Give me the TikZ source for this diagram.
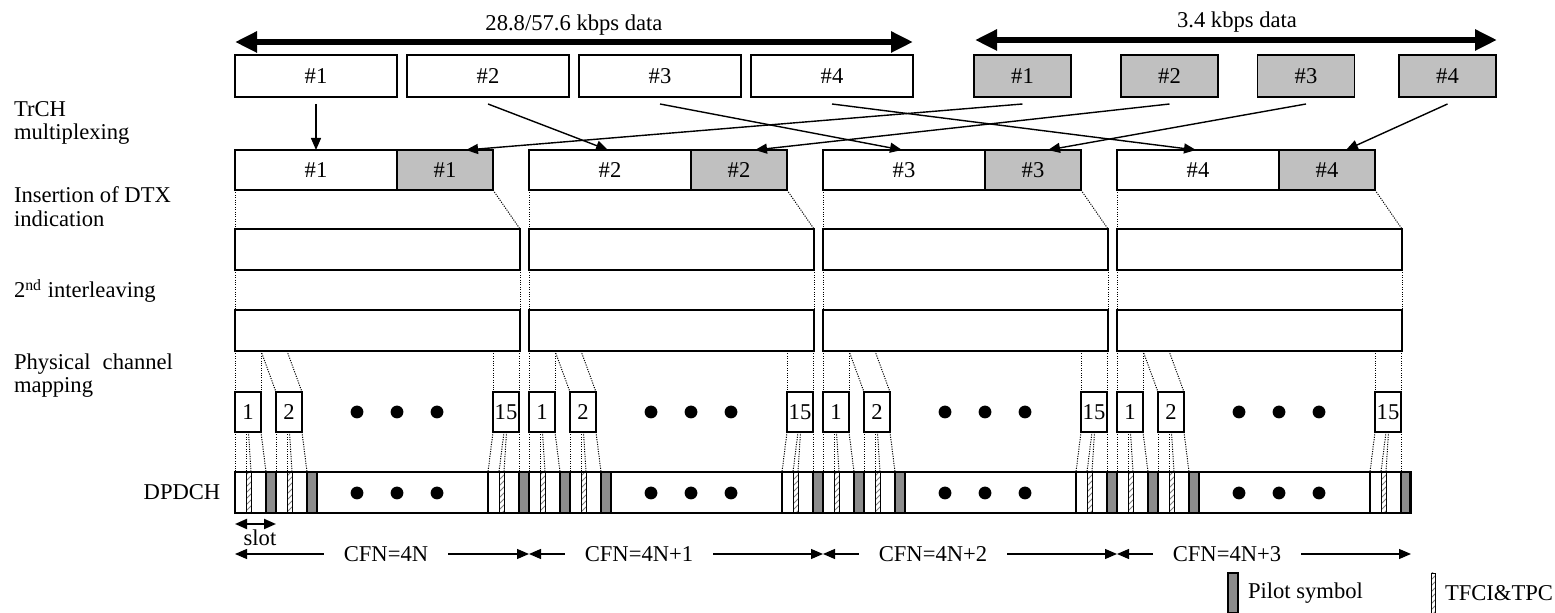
\documentclass[tikz,border=0pt]{standalone}
\usepackage{fontspec}
\setmainfont{Liberation Serif}
\usetikzlibrary{arrows.meta,patterns,calc}
\definecolor{boxgray}{RGB}{192,192,192}
\definecolor{pilotgray}{RGB}{140,140,140}
\begin{document}
\begin{tikzpicture}[x=0.5pt,y=-0.5pt,
  every node/.style={font=\fontsize{11.3}{12}\selectfont, inner sep=0pt, outer sep=0pt},
  wbox/.style={draw, line width=0.9pt, fill=white},
  gbox/.style={draw, line width=0.9pt, fill=boxgray},
  conn/.style={line width=0.7pt, -{Triangle[length=6pt,width=5pt]}},
  dotl/.style={line width=0.5pt, dash pattern=on 0.55pt off 0.65pt},
  bigarrow/.style={line width=3pt, {Triangle[length=11pt,width=10pt]}-{Triangle[length=11pt,width=10pt]}},
  cfnarrow/.style={line width=0.6pt, -{Triangle[length=6pt,width=5pt]}},
  tfci/.style={draw, line width=0.4pt, pattern=north east lines, pattern color=gray, minimum width=2.5pt, minimum height=20.5pt, anchor=north west},
  pilot/.style={draw, line width=0.6pt, fill=pilotgray, minimum width=5pt, minimum height=20.5pt, anchor=north west},
  lbl/.style={anchor=base west},
]
\useasboundingbox (0,0) rectangle (1555,613);

% top data arrows
\coordinate (la) at (235,42); \coordinate (lb) at (913,42);
\draw[bigarrow] (la) -- (lb);
\node (lt) at (574,25) {28.8/57.6 kbps data};
\coordinate (ra) at (975,40); \coordinate (rb) at (1497,40);
\draw[bigarrow] (ra) -- (rb);
\node (rt) at (1237,22) {3.4 kbps data};

% top boxes
\foreach \i/\cx in {1/316,2/488,3/660,4/832}
  \node[wbox, minimum width=81pt, minimum height=21pt] (t\i) at (\cx,76) {\#\i};
\foreach \i/\cx in {1/1022.5,2/1169.5,3/1306,4/1447.5}
  \node[gbox, minimum width=48.5pt, minimum height=21pt] (u\i) at (\cx,76) {\#\i};

% left labels
\node[lbl] (l1) at (14,117) {TrCH};
\node[lbl] (l2) at (14,140) {multiplexing};
\node[lbl] (l3) at (14,203) {Insertion of DTX};
\node[lbl] (l4) at (14,227) {indication};
\node[lbl] (l5) at (14,298) {2\textsuperscript{nd} interleaving};
\node[lbl] (l6) at (14,370) {\hbox to 79.5pt{Physical\hfil channel}};
\node[lbl] (l7) at (14,393) {mapping};
\node (l8) at (182,492) {DPDCH};

\foreach \g in {0,1,2,3}{
  \pgfmathsetmacro\L{235+294*\g}
  \pgfmathtruncatemacro\n{\g+1}
  \node[wbox, minimum width=81pt, minimum height=20pt, anchor=north west] (a\g) at (\L,150) {\#\n};
  \node[gbox, minimum width=48pt, minimum height=20pt, anchor=north west] (b\g) at (a\g.north east) {\#\n};
  \node[wbox, minimum width=142.5pt, minimum height=20.5pt, anchor=north west] (c\g) at (\L,229) {};
  \node[wbox, minimum width=142.5pt, minimum height=20.5pt, anchor=north west] (d\g) at (\L,310) {};
  \draw[dotl] (a\g.south west) -- (c\g.north west);
  \draw[dotl] (b\g.south east) -- (c\g.north east);
  \draw[dotl] (c\g.south west) -- (d\g.north west);
  \draw[dotl] (c\g.south east) -- (d\g.north east);
  \foreach \k/\bo/\so in {1/0/0, 2/41/41, 15/258/253}{
    \node[wbox, minimum width=13pt, minimum height=20pt, anchor=north west] (p\k-\g) at (\L+\bo,392) {\k};
    \draw[line width=0.6pt] (\L+\so,472) -- (\L+\so,513);
    \node[tfci] (f\k-\g) at (\L+\so+11,472) {};
    \node[pilot] (k\k-\g) at (\L+\so+31,472) {};
    \coordinate (q\k-\g) at (\L+\so,472);
    \draw[dotl] (p\k-\g.south west) -- (q\k-\g);
    \draw[dotl] ([xshift=5.5pt]p\k-\g.south west) -- (f\k-\g.north west);
    \draw[dotl] ([xshift=6.75pt]p\k-\g.south west) -- (f\k-\g.north east);
    \draw[dotl] (p\k-\g.south east) -- (k\k-\g.north west);
  }
  \coordinate (e1-\g) at (\L+26,351);
  \coordinate (e2-\g) at (\L+52,351);
  \draw[dotl] (d\g.south west) -- (p1-\g.north west);
  \draw[dotl] (e1-\g) -- (p1-\g.north east);
  \draw[dotl] (e1-\g) -- (p2-\g.north west);
  \draw[dotl] (e2-\g) -- (p2-\g.north east);
  \draw[dotl] (p15-\g.north west |- d\g.south) -- (p15-\g.north west);
  \draw[dotl] (p15-\g.north east |- d\g.south) -- (p15-\g.north east);
  \foreach \dx in {122,162,202}{
    \fill (\L+\dx,412) circle (3.2pt);
    \fill (\L+\dx,493) circle (3.2pt);
  }
  \ifnum\g=0
    \node[inner xsep=10pt] (cfn\g) at (\L+151,554) {CFN=4N};
  \else
    \node[inner xsep=10pt] (cfn\g) at (\L+110,554) {CFN=4N+\g};
  \fi
  \coordinate (cl\g) at (\L,554);
  \coordinate (cr\g) at (\L+294,554);
  \draw[cfnarrow] (cfn\g.west) -- (cl\g);
  \draw[cfnarrow] (cfn\g.east) -- (cr\g);
}
% group boundaries and strip outline
\foreach \g in {1,2,3}{
  \draw[line width=1.2pt] (235+294*\g,472) -- (235+294*\g,513);
}
\node[draw, line width=1.2pt, minimum width=587.5pt, minimum height=20.5pt, anchor=north west] (strip) at (235,472) {};

% multiplexing arrows
\draw[conn] ([yshift=-3.5pt]t1.south) -- (t1.south |- a0.north);
\draw[conn] ([yshift=-3.5pt]t2.south) -- ([xshift=39.5pt]a1.north west);
\draw[conn] ([yshift=-3.5pt]t3.south) -- ([xshift=39.5pt]a2.north west);
\draw[conn] ([yshift=-3.5pt]t4.south) -- ([xshift=39.5pt]a3.north west);
\draw[conn] ([yshift=-3.5pt]u1.south) -- ([xshift=34.5pt]b0.north west);
\draw[conn] ([yshift=-3.5pt]u2.south) -- ([xshift=32pt]b1.north west);
\draw[conn] ([yshift=-3.5pt]u3.south) -- ([xshift=31.5pt]b2.north west);
\draw[conn] ([yshift=-3.5pt]u4.south) -- ([xshift=33.5pt]b3.north west);

% slot indicator
\coordinate (s1) at (235,524); \coordinate (s2) at (276,524);
\draw[line width=1pt, {Triangle[length=6pt,width=5pt]}-{Triangle[length=6pt,width=5pt]}] (s1) -- (s2);
\node (slotlab) at (260,538) {slot};

% legend
\node[pilot, minimum height=20pt] (legp) at (1228,573) {};
\node[anchor=west] (legpt) at (1248,593) {Pilot symbol};
\node[tfci, minimum height=20pt, minimum width=2pt] (legt) at (1431,573) {};
\node[anchor=west] (legtt) at (1445,593) {TFCI\&TPC};
\end{tikzpicture}
\end{document}
